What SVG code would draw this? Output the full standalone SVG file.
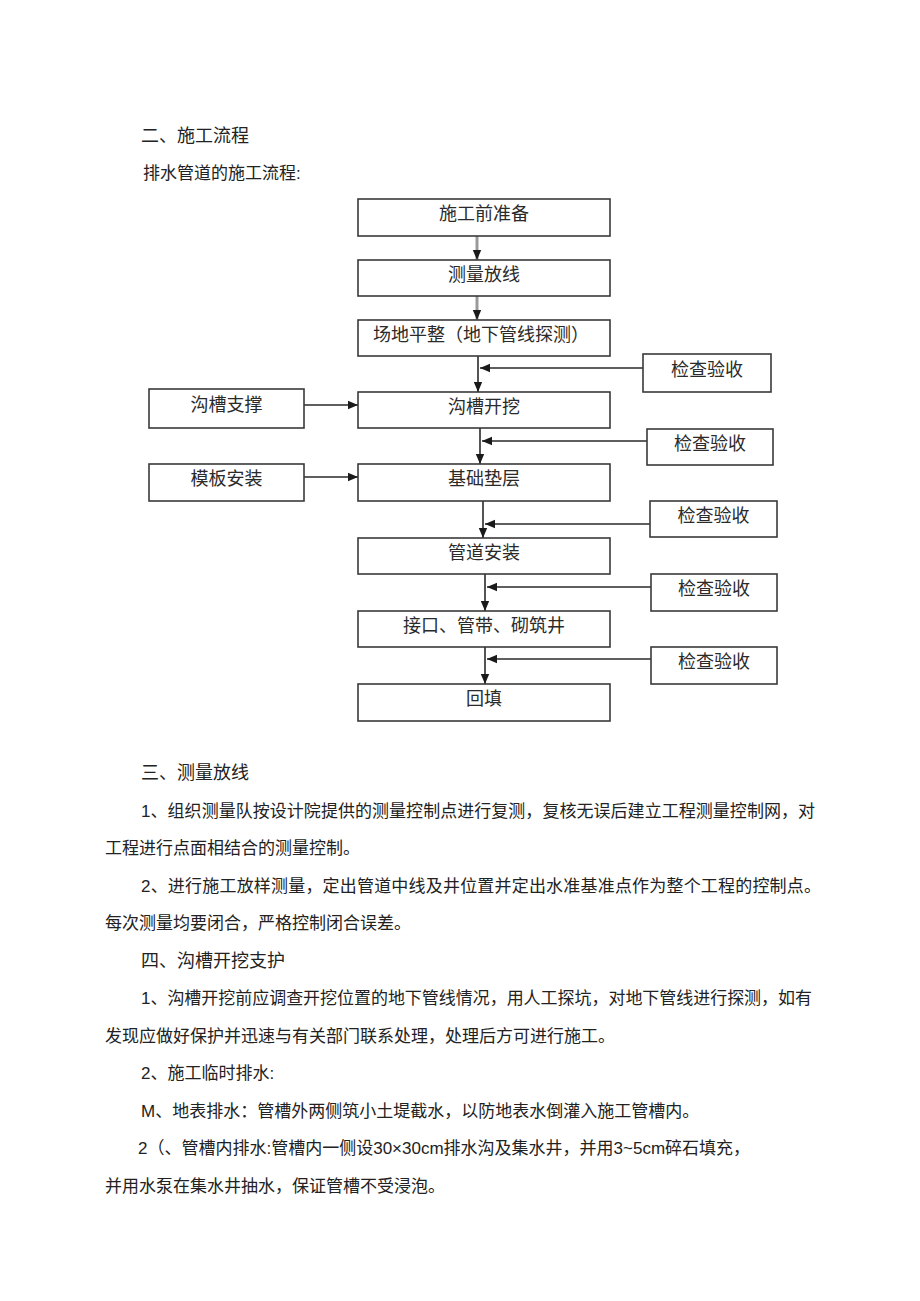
<svg xmlns="http://www.w3.org/2000/svg" width="920" height="1301" viewBox="0 0 920 1301">
<defs>
<style>
.t{font-family:"Liberation Sans","Noto Sans CJK SC",sans-serif;fill:#222;}
.body{font-size:17px;}
.head{font-size:18px;}
.box rect{fill:#fff;stroke:#3a3a3a;stroke-width:1.6;}
.box text{font-family:"Liberation Sans","Noto Sans CJK SC",sans-serif;font-size:18px;fill:#2a2a2a;text-anchor:middle;}
.ln{fill:none;stroke:#2a2a2a;stroke-width:1.6;marker-end:url(#ah);}
.lg{fill:none;stroke:#9a9a9a;stroke-width:3;marker-end:url(#ah);}
</style>
<marker id="ah" markerUnits="userSpaceOnUse" markerWidth="10" markerHeight="10" viewBox="0 0 10 10" refX="10" refY="5" orient="auto">
<path d="M0,0.8 L10,5 L0,9.2 Z" fill="#1a1a1a"/>
</marker>
</defs>
<rect width="920" height="1301" fill="#fff"/>

<g id="text-top">
<text class="t head" x="141" y="142">二、施工流程</text>
<text class="t body" x="143" y="179">排水管道的施工流程:</text>
</g>

<g id="connectors">
<line class="lg" x1="477" y1="236" x2="477" y2="260"/>
<line class="lg" x1="477" y1="296" x2="477" y2="320"/>
<line class="ln" x1="478" y1="356" x2="478" y2="392"/>
<line class="ln" x1="643" y1="368" x2="480" y2="368"/>
<line class="ln" x1="304" y1="405" x2="358" y2="405"/>
<line class="ln" x1="480" y1="428" x2="480" y2="464"/>
<line class="ln" x1="647" y1="441" x2="482" y2="441"/>
<line class="ln" x1="304" y1="477" x2="358" y2="477"/>
<line class="ln" x1="483" y1="501" x2="483" y2="538"/>
<line class="ln" x1="650" y1="524" x2="485" y2="524"/>
<line class="ln" x1="485" y1="574" x2="485" y2="611"/>
<line class="ln" x1="651" y1="587" x2="487" y2="587"/>
<line class="ln" x1="485" y1="647" x2="485" y2="684"/>
<line class="ln" x1="651" y1="659" x2="487" y2="659"/>
</g>

<g id="n-prep" class="box"><rect x="358" y="199" width="252" height="37"/><text x="484" y="220">施工前准备</text></g>
<g id="n-survey" class="box"><rect x="358" y="260" width="252" height="36"/><text x="484" y="281">测量放线</text></g>
<g id="n-site" class="box"><rect x="358" y="320" width="252" height="36"/><text x="481" y="341">场地平整（地下管线探测）</text></g>
<g id="n-excavate" class="box"><rect x="358" y="392" width="252" height="36"/><text x="484" y="413">沟槽开挖</text></g>
<g id="n-base" class="box"><rect x="358" y="464" width="252" height="37"/><text x="484" y="485">基础垫层</text></g>
<g id="n-pipe" class="box"><rect x="358" y="538" width="252" height="36"/><text x="484" y="559">管道安装</text></g>
<g id="n-joint" class="box"><rect x="358" y="611" width="252" height="36"/><text x="484" y="632">接口、管带、砌筑井</text></g>
<g id="n-backfill" class="box"><rect x="358" y="684" width="252" height="37"/><text x="484" y="705">回填</text></g>

<g id="n-support" class="box"><rect x="149" y="389" width="155" height="39"/><text x="226.5" y="411">沟槽支撑</text></g>
<g id="n-formwork" class="box"><rect x="149" y="464" width="155" height="37"/><text x="226.5" y="485">模板安装</text></g>

<g id="n-check1" class="box"><rect x="643" y="354" width="128" height="38"/><text x="707" y="376">检查验收</text></g>
<g id="n-check2" class="box"><rect x="647" y="429" width="126" height="36"/><text x="710" y="450">检查验收</text></g>
<g id="n-check3" class="box"><rect x="650" y="501" width="127" height="36"/><text x="713.5" y="522">检查验收</text></g>
<g id="n-check4" class="box"><rect x="651" y="574" width="126" height="37"/><text x="714" y="595">检查验收</text></g>
<g id="n-check5" class="box"><rect x="651" y="647" width="126" height="37"/><text x="714" y="668">检查验收</text></g>

<g id="text-bottom">
<text class="t head" x="141" y="779">三、测量放线</text>
<text class="t body" x="141" y="816.5" textLength="674" lengthAdjust="spacing">1、组织测量队按设计院提供的测量控制点进行复测，复核无误后建立工程测量控制网，对</text>
<text class="t body" x="105" y="854">工程进行点面相结合的测量控制。</text>
<text class="t body" x="141" y="891.5" textLength="680" lengthAdjust="spacing">2、进行施工放样测量，定出管道中线及井位置并定出水准基准点作为整个工程的控制点。</text>
<text class="t body" x="105" y="929">每次测量均要闭合，严格控制闭合误差。</text>
<text class="t head" x="141" y="966.5">四、沟槽开挖支护</text>
<text class="t body" x="141" y="1004" textLength="671" lengthAdjust="spacing">1、沟槽开挖前应调查开挖位置的地下管线情况，用人工探坑，对地下管线进行探测，如有</text>
<text class="t body" x="105" y="1041.5">发现应做好保护并迅速与有关部门联系处理，处理后方可进行施工。</text>
<text class="t body" x="141" y="1079">2、施工临时排水:</text>
<text class="t body" x="141" y="1116.5">M、地表排水：管槽外两侧筑小土堤截水，以防地表水倒灌入施工管槽内。</text>
<text class="t body" x="138" y="1154">2（、管槽内排水:管槽内一侧设30×30cm排水沟及集水井，并用3~5cm碎石填充，</text>
<text class="t body" x="105" y="1191.5">并用水泵在集水井抽水，保证管槽不受浸泡。</text>
</g>
</svg>
